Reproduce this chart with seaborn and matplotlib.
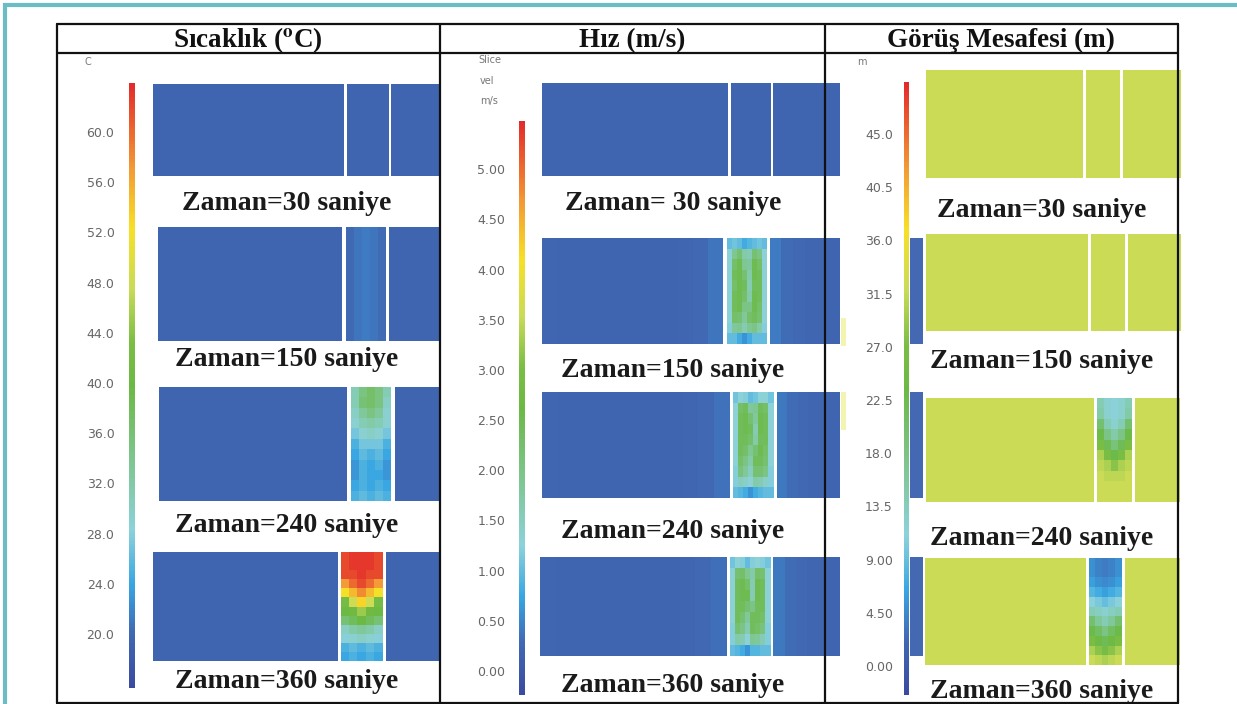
import numpy as np
import matplotlib
matplotlib.use("Agg")
import matplotlib.pyplot as plt
import seaborn as sns
from matplotlib.colors import LinearSegmentedColormap, Normalize
from matplotlib.cm import ScalarMappable
from matplotlib.lines import Line2D
from matplotlib.patches import Rectangle

sns.set_theme(style="white")
plt.rcParams['font.family'] = ['Liberation Serif', 'DejaVu Serif']
plt.rcParams['mathtext.fontset'] = 'stix'

# ---------------- data ----------------
COLUMN_TITLES = ["Sıcaklık ($^{\\mathbf{o}}$C)", "Hız (m/s)", "Görüş Mesafesi (m)"]
CAPTIONS = [
    ["Zaman=30 saniye", "Zaman=150 saniye", "Zaman=240 saniye", "Zaman=360 saniye"],
    ["Zaman= 30 saniye", "Zaman=150 saniye", "Zaman=240 saniye", "Zaman=360 saniye"],
    ["Zaman=30 saniye", "Zaman=150 saniye", "Zaman=240 saniye", "Zaman=360 saniye"],
]
CBAR_UNITS = [["C"], ["Slice", "vel", "m/s"], ["m"]]

TEMP_TICKS = [20.0, 24.0, 28.0, 32.0, 36.0, 40.0, 44.0, 48.0, 52.0, 56.0, 60.0]
TEMP_TICK_LABELS = ["20.0", "24.0", "28.0", "32.0", "36.0", "40.0", "44.0", "48.0", "52.0", "56.0", "60.0"]
VEL_TICKS = [0.0, 0.5, 1.0, 1.5, 2.0, 2.5, 3.0, 3.5, 4.0, 4.5, 5.0]
VEL_TICK_LABELS = ["0.00", "0.50", "1.00", "1.50", "2.00", "2.50", "3.00", "3.50", "4.00", "4.50", "5.00"]
VIS_TICKS = [0.0, 4.5, 9.0, 13.5, 18.0, 22.5, 27.0, 31.5, 36.0, 40.5, 45.0]
VIS_TICK_LABELS = ["0.00", "4.50", "9.00", "13.5", "18.0", "22.5", "27.0", "31.5", "36.0", "40.5", "45.0"]

TEMP_RANGE = (15.7, 63.9)
VEL_RANGE = (-0.24, 5.48)
VIS_RANGE = (-2.45, 49.4)

TEMP_BG = 19.5
VEL_BG = 0.2
VIS_BG = 32.0

# temperature, middle strip (rows top -> bottom)
TEMP_MID_150 = [[20.2, 20.9, 21.2, 20.9, 20.3]]
TEMP_MID_240 = [
    [31, 35, 37, 35, 31],
    [31, 36, 37, 35, 30],
    [30, 33, 35, 33, 29],
    [29, 31, 32, 31, 29],
    [27, 29, 30, 29, 27],
    [25, 27, 27, 27, 25],
    [24, 26, 25, 26, 24],
    [23, 25, 24, 25, 23],
    [23, 25, 24, 24, 23],
    [24, 25, 24, 25, 24],
    [25, 26, 25, 26, 25],
]
TEMP_MID_360 = [
    [62, 63, 63, 63, 62],
    [62, 63, 63, 63, 62],
    [62, 62, 63, 62, 62],
    [57, 60, 62, 60, 57],
    [52, 55, 58, 55, 52],
    [42, 48, 53, 48, 42],
    [40, 41, 45, 41, 40],
    [36, 38, 40, 38, 36],
    [30, 32, 33, 32, 30],
    [28, 29, 30, 29, 28],
    [25, 26, 25, 26, 25],
    [24, 25, 24, 25, 24],
]

# velocity, left / middle / right strips
VEL_LEFT_150 = [[0.24, 0.22, 0.2, 0.2, 0.2, 0.2, 0.2, 0.2, 0.21, 0.23, 0.27, 0.38]]
VEL_MID_150 = [
    [1.0, 1.1, 1.0, 0.8, 0.9, 1.0, 1.1, 1.0],
    [1.3, 1.9, 2.2, 1.7, 1.6, 2.2, 2.0, 1.3],
    [1.3, 2.3, 2.5, 1.9, 1.8, 2.5, 2.3, 1.3],
    [1.3, 2.4, 2.5, 2.2, 1.7, 2.5, 2.4, 1.3],
    [1.3, 2.3, 2.5, 2.4, 1.6, 2.4, 2.4, 1.3],
    [1.3, 2.4, 2.5, 2.3, 1.7, 2.5, 2.4, 1.3],
    [1.3, 2.4, 2.5, 2.0, 2.0, 2.5, 2.3, 1.3],
    [1.3, 2.3, 2.2, 1.8, 2.3, 2.4, 2.2, 1.3],
    [1.2, 1.8, 1.9, 1.6, 1.9, 2.0, 1.7, 1.2],
    [1.0, 1.0, 0.8, 0.6, 0.8, 1.0, 1.0, 1.0],
]
VEL_RIGHT_150 = [[0.42, 0.3, 0.27, 0.25, 0.23, 0.21]]

VEL_LEFT_240 = [[0.25, 0.22, 0.2, 0.2, 0.2, 0.2, 0.2, 0.2, 0.21, 0.23, 0.26, 0.35]]
VEL_MID_240 = [
    [1.1, 1.3, 1.2, 1.0, 1.1, 1.3, 1.3, 1.1],
    [1.3, 2.3, 2.4, 1.8, 1.9, 2.4, 2.3, 1.3],
    [1.3, 2.4, 2.5, 2.2, 1.8, 2.5, 2.4, 1.3],
    [1.3, 2.4, 2.5, 2.4, 1.6, 2.5, 2.4, 1.3],
    [1.3, 2.4, 2.4, 2.3, 1.7, 2.4, 2.4, 1.3],
    [1.3, 2.4, 2.3, 1.9, 2.2, 2.5, 2.3, 1.3],
    [1.3, 2.3, 2.0, 1.7, 2.4, 2.4, 2.2, 1.3],
    [1.2, 2.1, 1.8, 1.5, 2.2, 2.2, 2.0, 1.2],
    [1.2, 1.5, 1.4, 1.3, 1.7, 1.6, 1.4, 1.2],
    [1.0, 0.9, 0.8, 0.6, 0.8, 0.9, 1.0, 1.0],
]
VEL_RIGHT_240 = [[0.4, 0.3, 0.27, 0.25, 0.23, 0.21]]

VEL_LEFT_360 = [[0.25, 0.22, 0.2, 0.2, 0.2, 0.2, 0.2, 0.2, 0.21, 0.23, 0.26, 0.34]]
VEL_MID_360 = [
    [1.1, 1.3, 1.2, 1.0, 1.2, 1.3, 1.2, 1.1],
    [1.3, 2.2, 2.3, 1.9, 1.7, 2.3, 2.2, 1.3],
    [1.3, 2.4, 2.5, 2.3, 1.6, 2.5, 2.4, 1.3],
    [1.3, 2.4, 2.5, 2.5, 1.6, 2.5, 2.4, 1.3],
    [1.3, 2.4, 2.4, 2.2, 2.0, 2.4, 2.4, 1.3],
    [1.3, 2.4, 2.2, 1.8, 2.4, 2.4, 2.3, 1.3],
    [1.2, 2.2, 2.0, 1.6, 2.4, 2.3, 2.1, 1.2],
    [1.2, 1.7, 1.6, 1.3, 1.9, 1.8, 1.6, 1.2],
    [1.0, 0.9, 0.8, 0.6, 0.9, 0.9, 1.0, 1.0],
]
VEL_RIGHT_360 = [[0.4, 0.3, 0.27, 0.25, 0.23, 0.21]]

# visibility, middle strip
VIS_MID_240 = [
    [14, 12, 11, 12, 14],
    [15, 12, 11, 12, 15],
    [20, 14, 12, 14, 20],
    [23, 18, 15, 18, 23],
    [27, 22, 19, 22, 27],
    [30, 27, 23, 27, 30],
    [31, 30, 28, 30, 31],
    [32, 31, 31, 31, 32],
    [32, 32, 32, 32, 32],
    [32, 32, 32, 32, 32],
]
VIS_MID_360 = [
    [5, 4, 3.5, 4, 5],
    [5, 4, 3.5, 4, 5],
    [6, 5, 4.5, 5, 6],
    [8, 7, 6, 7, 8],
    [11, 10, 9, 10, 11],
    [14, 13, 12, 13, 14],
    [20, 16, 14, 16, 20],
    [23, 21, 18, 21, 23],
    [27, 24, 22, 24, 27],
    [30, 28, 26, 28, 30],
    [32, 31, 30, 31, 32],
]

# ---------------- colour map (Smokeview-like rainbow) ----------------
CMAP = LinearSegmentedColormap.from_list("smv", [
    (0.00, "#3B4A9F"),
    (0.09, "#4069B4"),
    (0.17, "#38A6E2"),
    (0.26, "#8CD2DA"),
    (0.36, "#80C79A"),
    (0.50, "#6BB944"),
    (0.57, "#7ABD45"),
    (0.66, "#C8DB58"),
    (0.76, "#F8E025"),
    (0.86, "#F39A34"),
    (1.00, "#E32A2A"),
])

# ---------------- layout (pixels) ----------------
W, H = 1237, 704
fig = plt.figure(figsize=(W / 100, H / 100), dpi=100)
fig.patch.set_facecolor("white")


def px_axes(x0, y0, x1, y1):
    return fig.add_axes([x0 / W, 1 - y1 / H, (x1 - x0) / W, (y1 - y0) / H])


def draw_panel(box, gaps, fields, vrange):
    x0, y0, x1, y1 = box
    g1, g2 = gaps
    spans = [(x0, g1 - 1.5), (g1 + 1.5, g2 - 1.5), (g2 + 1.5, x1)]
    for (a, b), field in zip(spans, fields):
        ax = px_axes(a, y0, b, y1)
        sns.heatmap(np.atleast_2d(np.asarray(field, dtype=float)), ax=ax, cmap=CMAP,
                    vmin=vrange[0], vmax=vrange[1], cbar=False,
                    xticklabels=False, yticklabels=False)


def draw_cbar(box, vrange, ticks, labels, pad):
    x0, y0, x1, y1 = box
    cax = px_axes(x0, y0, x1, y1)
    sm = ScalarMappable(norm=Normalize(*vrange), cmap=CMAP)
    cb = fig.colorbar(sm, cax=cax)
    cb.outline.set_visible(False)
    cax.yaxis.set_ticks_position('left')
    cax.set_yticks(ticks)
    cax.set_yticklabels(labels)
    cax.tick_params(axis='y', length=0, pad=pad, labelsize=9, labelcolor="#666666")
    for t in cax.get_yticklabels():
        t.set_fontfamily('DejaVu Sans')


# temperature column
draw_cbar((129, 83, 135, 688), TEMP_RANGE, TEMP_TICKS, TEMP_TICK_LABELS, 10.5)
draw_panel((153, 84, 441, 176), (345, 390), [[[TEMP_BG]], [[TEMP_BG]], [[TEMP_BG]]], TEMP_RANGE)
draw_panel((158, 227, 441, 341), (344, 387), [[[TEMP_BG]], TEMP_MID_150, [[TEMP_BG]]], TEMP_RANGE)
draw_panel((159, 387, 441, 501), (349, 393), [[[TEMP_BG]], TEMP_MID_240, [[TEMP_BG]]], TEMP_RANGE)
draw_panel((153, 552, 441, 661), (339, 384), [[[TEMP_BG]], TEMP_MID_360, [[TEMP_BG]]], TEMP_RANGE)

# velocity column
draw_cbar((519, 121, 525, 695), VEL_RANGE, VEL_TICKS, VEL_TICK_LABELS, 10)
draw_panel((542, 83, 840, 176), (729, 772), [[[VEL_BG]], [[VEL_BG]], [[VEL_BG]]], VEL_RANGE)
draw_panel((542, 238, 840, 344), (725, 768), [VEL_LEFT_150, VEL_MID_150, VEL_RIGHT_150], VEL_RANGE)
draw_panel((542, 392, 840, 498), (731, 775), [VEL_LEFT_240, VEL_MID_240, VEL_RIGHT_240], VEL_RANGE)
draw_panel((540, 557, 840, 656), (728, 772), [VEL_LEFT_360, VEL_MID_360, VEL_RIGHT_360], VEL_RANGE)

# visibility column
draw_cbar((904, 82, 909, 695), VIS_RANGE, VIS_TICKS, VIS_TICK_LABELS, 8)
draw_panel((926, 70, 1181, 178), (1084, 1121), [[[VIS_BG]], [[VIS_BG]], [[VIS_BG]]], VIS_RANGE)
draw_panel((926, 234, 1181, 331), (1089, 1126), [[[VIS_BG]], [[VIS_BG]], [[VIS_BG]]], VIS_RANGE)
draw_panel((926, 398, 1180, 502), (1095, 1133), [[[VIS_BG]], VIS_MID_240, [[VIS_BG]]], VIS_RANGE)
draw_panel((925, 558, 1180, 665), (1087, 1123), [[[VIS_BG]], VIS_MID_360, [[VIS_BG]]], VIS_RANGE)


def fx(x):
    return x / W


def fy(y):
    return 1 - y / H


# leftover slivers of neighbouring slice images
for y0, y1 in [(238, 344), (392, 498), (557, 656)]:
    fig.add_artist(Rectangle((fx(910), fy(y1)), (923 - 910) / W, (y1 - y0) / H,
                             transform=fig.transFigure, color="#4468B2", lw=0, zorder=1))
for y0, y1 in [(318, 346), (392, 430)]:
    fig.add_artist(Rectangle((fx(841), fy(y1)), 5 / W, (y1 - y0) / H,
                             transform=fig.transFigure, color="#F2F4B0", lw=0, zorder=1))

# colour bar unit labels
unit_pos = [[(88, 62)], [(490, 60), (487, 81), (489, 101)], [(862, 62)]]
for texts, poss in zip(CBAR_UNITS, unit_pos):
    for t, (x, y) in zip(texts, poss):
        fig.text(fx(x), fy(y), t, ha='center', va='center', fontsize=7,
                 color="#777777", family='DejaVu Sans')

# column titles
title_x = [248, 632, 1001]
for t, x in zip(COLUMN_TITLES, title_x):
    fig.text(fx(x), fy(47), t, ha='center', va='baseline', fontsize=19.5,
             fontweight='bold', color="#111111")

# captions
cap_x = [287, 673, 1042]
cap_y = [[210, 366, 532, 688], [210, 377, 538, 692], [217, 368, 545, 698]]
for c in range(3):
    for i, cap in enumerate(CAPTIONS[c]):
        fig.text(fx(cap_x[c]), fy(cap_y[c][i]), cap,
                 ha='center', va='baseline', fontsize=20, fontweight='bold',
                 color="#1a1a1a")

# table lines
lw = 1.6
segs = [
    ((57, 1178), (24, 24)),
    ((57, 1178), (53, 53)),
    ((57, 1178), (703, 703)),
    ((57, 57), (24, 703)),
    ((440, 440), (24, 703)),
    ((825, 825), (24, 703)),
    ((1178, 1178), (24, 703)),
]
for xs, ys in segs:
    fig.add_artist(Line2D([fx(xs[0]), fx(xs[1])], [fy(ys[0]), fy(ys[1])],
                          transform=fig.transFigure, color="#111111", lw=lw, zorder=5))

# teal frame
fig.add_artist(Rectangle((fx(5), fy(760)), 1300 / W, 755 / H, transform=fig.transFigure,
                         fill=False, edgecolor="#6CBCC6", lw=3, zorder=6))

fig.savefig("out.png", dpi=100, facecolor="white")
